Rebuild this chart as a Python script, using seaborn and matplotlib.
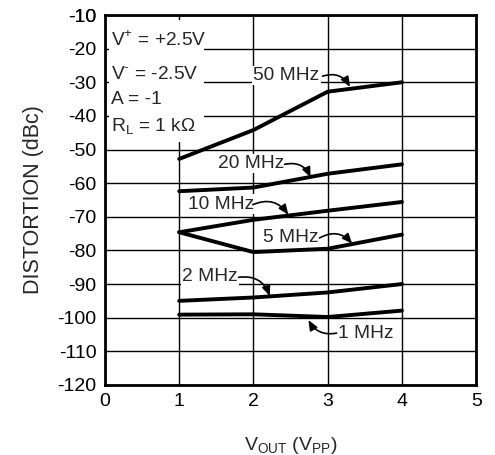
import numpy as np
import pandas as pd
import matplotlib
matplotlib.use("Agg")
import matplotlib.pyplot as plt
from matplotlib.patches import Rectangle
import seaborn as sns

# values
vout = [1, 2, 3, 4]
freqs = ["50 MHz", "20 MHz", "10 MHz", "5 MHz", "2 MHz", "1 MHz"]
dist_50 = [-52.8, -44.2, -32.8, -30.0]
dist_20 = [-62.4, -61.3, -57.2, -54.4]
dist_10 = [-74.6, -70.9, -68.2, -65.6]
dist_5 = [-74.6, -80.5, -79.5, -75.3]
dist_2 = [-95.0, -94.0, -92.5, -90.0]
dist_1 = [-99.1, -99.0, -99.8, -97.9]

y_ticks = list(range(-120, 0, 10))
x_ticks = [0, 1, 2, 3, 4, 5]

# label text position, arrow start, arrow end, curvature
labels = {
    "50 MHz": ((2.0, -28.0), (2.93, -28.2), (3.30, -31.4), -0.4),
    "20 MHz": ((1.52, -54.2), (2.42, -54.4), (2.77, -58.3), -0.4),
    "10 MHz": ((1.12, -66.2), (1.99, -66.4), (2.47, -69.4), -0.4),
    "5 MHz": ((2.13, -76.2), (2.89, -76.3), (3.33, -78.0), -0.4),
    "2 MHz": ((1.04, -87.8), (1.80, -88.0), (2.22, -93.6), -0.4),
    "1 MHz": ((3.14, -104.7), (3.12, -104.6), (2.74, -100.7), -0.35),
}

conditions = [
    r"V$^{\mathregular{+}}$ = +2.5V",
    r"V$^{\text{-}}$ = -2.5V",
    "A = -1",
    r"R$_{\mathregular{L}}$ = 1 k$\mathregular{\Omega}$",
]
cond_y = [-17.6, -27.6, -35.2, -43.2]

sns.set_style("white")
plt.rcParams["font.family"] = ["Liberation Sans", "DejaVu Sans"]
plt.rcParams["mathtext.fontset"] = "custom"
plt.rcParams["mathtext.rm"] = "Liberation Sans"
plt.rcParams["axes.unicode_minus"] = False

df = pd.DataFrame({
    "vout": vout * len(freqs),
    "dist": dist_50 + dist_20 + dist_10 + dist_5 + dist_2 + dist_1,
    "freq": [f for f in freqs for _ in vout],
})

fig = plt.figure(figsize=(4.95, 4.55), dpi=100)
ax = fig.add_axes([0.212, 0.154, 0.75, 0.813])

sns.lineplot(data=df, x="vout", y="dist", units="freq", estimator=None,
             color="black", lw=2.8, ax=ax, zorder=3, legend=False)

ax.set_xlim(0, 5)
ax.set_ylim(-120, -10)
ax.set_xticks(x_ticks)
ax.set_yticks(y_ticks + [-10])
ax.tick_params(length=0, labelsize=14, pad=6, colors="black")
ax.set_axisbelow(True)
ax.grid(True, color="black", lw=1.0)
for s in ax.spines.values():
    s.set_linewidth(2.0)
    s.set_color("black")

# white panel behind the test conditions
ax.add_patch(Rectangle((0.05, -11.6), 1.28, -36.2, facecolor="white",
                       edgecolor="none", zorder=1))
for txt, y in zip(conditions, cond_y):
    ax.text(0.08, y, txt, fontsize=13.8, va="center", ha="left", zorder=4)

for name, (tpos, start, end, rad) in labels.items():
    ax.text(tpos[0], tpos[1], name, fontsize=13.8, va="center", ha="left",
            zorder=4, bbox=dict(facecolor="white", edgecolor="none", pad=1))
    ax.annotate("", xy=end, xytext=start, zorder=4,
                arrowprops=dict(arrowstyle="-|>,head_length=0.6,head_width=0.25",
                                color="black", lw=1.2,
                                connectionstyle=f"arc3,rad={rad}",
                                shrinkA=0, shrinkB=0))

ax.set_xlabel(r"V$_{\mathregular{OUT}}$ (V$_{\mathregular{PP}}$)", fontsize=14, labelpad=18)
ax.set_ylabel("DISTORTION (dBc)", fontsize=15.5, labelpad=10)

fig.savefig("out.png", dpi=100)
